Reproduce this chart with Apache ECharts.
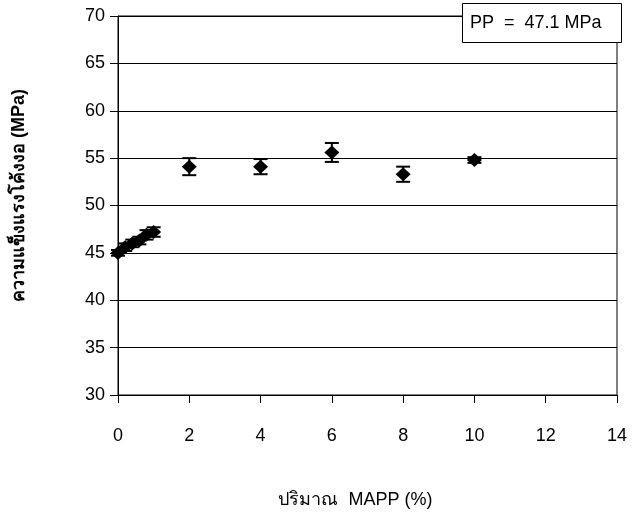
<!DOCTYPE html>
<html lang="th">
<head>
    <meta charset="UTF-8">
    <title>MAPP</title>
    <script src="https://cdn.jsdelivr.net/npm/echarts@6/dist/echarts.min.js"></script>
</head>
<body style="margin:0">
    <div id="main" style="width: 638px; height: 516px;"></div>
    <script>
        // ปริมาณ MAPP (%) กับ ความแข็งแรงโค้งงอ
        var mappPct = [0, 0.2, 0.4, 0.6, 0.8, 1.0, 2, 4, 6, 8, 10];
        var strength = [45.0, 45.6, 46.0, 46.3, 46.9, 47.2, 54.1, 54.1, 55.6, 53.3, 54.8];
        var errBar = [0.3, 0.4, 0.4, 0.4, 0.5, 0.5, 0.9, 0.8, 1.0, 0.8, 0.3];
        var legendText = 'PP  =  47.1 MPa';

        var points = mappPct.map(function (x, i) { return [x, strength[i]]; });
        var bars = mappPct.map(function (x, i) {
            return [x, strength[i] - errBar[i], strength[i] + errBar[i]];
        });

        var chartDom = document.getElementById('main');
        var myChart = echarts.init(chartDom);
        var font = 'Liberation Sans, Arial, sans-serif';

        var option = {
            animation: false,
            textStyle: { fontFamily: font },
            title: {
                text: legendText,
                left: 462,
                top: 3,
                z: 20,
                padding: [11, 20, 11, 8],
                backgroundColor: '#fff',
                borderColor: '#000',
                borderWidth: 1,
                textStyle: { fontSize: 18, fontWeight: 'normal', color: '#000', fontFamily: font }
            },
            grid: {
                left: 118,
                right: 21,
                top: 16,
                bottom: 121,
                show: true,
                borderColor: '#000',
                borderWidth: 1
            },
            xAxis: {
                type: 'value',
                min: 0,
                max: 14,
                interval: 2,
                name: 'ปริมาณ  MAPP (%)',
                nameLocation: 'middle',
                nameGap: 96,
                nameTextStyle: { fontSize: 18, color: '#000', padding: [0, 24, 0, 0] },
                axisLine: { show: true, lineStyle: { color: '#000' } },
                axisTick: { show: true, length: 8, lineStyle: { color: '#000' } },
                axisLabel: { margin: 32, fontSize: 18, color: '#000' },
                splitLine: { show: false }
            },
            yAxis: {
                type: 'value',
                min: 30,
                max: 70,
                interval: 5,
                name: 'ความแข็งแรงโค้งงอ (MPa)',
                nameLocation: 'middle',
                nameRotate: 90,
                nameGap: 90,
                nameTextStyle: { fontSize: 18, fontWeight: 'bold', color: '#000', padding: [0, 0, 0, 20] },
                axisLine: { show: true, lineStyle: { color: '#000' } },
                axisTick: { show: true, length: 8, lineStyle: { color: '#000' } },
                axisLabel: { margin: 13, fontSize: 18, color: '#000' },
                splitLine: { show: true, lineStyle: { color: '#000', width: 1 } }
            },
            series: [
                {
                    name: 'error',
                    type: 'custom',
                    data: bars,
                    z: 3,
                    renderItem: function (params, api) {
                        var x = api.value(0);
                        var lo = api.coord([x, api.value(1)]);
                        var hi = api.coord([x, api.value(2)]);
                        var w = 7;
                        var st = { stroke: '#000', lineWidth: 2 };
                        return {
                            type: 'group',
                            children: [
                                { type: 'line', shape: { x1: hi[0], y1: hi[1], x2: lo[0], y2: lo[1] }, style: st },
                                { type: 'line', shape: { x1: hi[0] - w, y1: hi[1], x2: hi[0] + w, y2: hi[1] }, style: st },
                                { type: 'line', shape: { x1: lo[0] - w, y1: lo[1], x2: lo[0] + w, y2: lo[1] }, style: st }
                            ]
                        };
                    }
                },
                {
                    name: 'strength',
                    type: 'scatter',
                    data: points,
                    z: 4,
                    symbol: 'diamond',
                    symbolSize: [15, 14],
                    itemStyle: { color: '#000', opacity: 1 }
                }
            ]
        };

        option && myChart.setOption(option);
    </script>
</body>
</html>
